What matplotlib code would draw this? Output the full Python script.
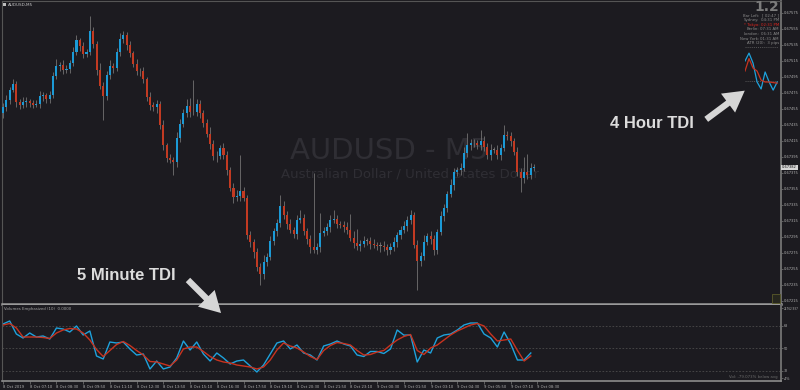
import matplotlib
matplotlib.use("Agg")
import matplotlib.pyplot as plt
from matplotlib.patches import FancyArrowPatch, Rectangle
import numpy as np

# --- data (AUDUSD M5, prices in 1e-5 units) ---
first_open = 67450
close_pts = [
    67457, 67466, 67479, 67486, 67464, 67460, 67464, 67465, 67462, 67460,
    67461, 67471, 67472, 67467, 67472, 67496, 67509, 67510, 67504, 67505,
    67512, 67526, 67541, 67534, 67524, 67526, 67552, 67536, 67504, 67484,
    67471, 67497, 67509, 67506, 67526, 67542, 67547, 67535, 67525, 67511,
    67502, 67502, 67492, 67470, 67460, 67457, 67461, 67435, 67410, 67394,
    67391, 67389, 67419, 67436, 67450, 67459, 67451, 67451, 67461, 67450,
    67437, 67424, 67411, 67396, 67396, 67406, 67397, 67379, 67356, 67345,
    67346, 67352, 67344, 67297, 67289, 67276, 67257, 67249, 67264, 67270,
    67290, 67302, 67312, 67334, 67322, 67311, 67304, 67299, 67316, 67319,
    67302, 67292, 67282, 67279, 67282, 67300, 67302, 67307, 67316, 67317,
    67311, 67310, 67307, 67304, 67294, 67287, 67284, 67286, 67290, 67290,
    67286, 67285, 67284, 67284, 67282, 67279, 67282, 67289, 67297, 67304,
    67309, 67316, 67322, 67285, 67265, 67271, 67289, 67296, 67292, 67279,
    67301, 67321, 67331, 67349, 67360, 67376, 67379, 67381, 67400, 67410,
    67412, 67412, 67410, 67415, 67407, 67397, 67404, 67404, 67397, 67406,
    67422, 67421, 67415, 67401, 67376, 67369, 67376, 67372, 67381, 67382,
]
wick_up = [
    5, 6, 4, 6, 4, 3, 6, 5, 3, 4, 5, 7, 4, 3, 6, 5, 8, 4, 6, 5,
    4, 6, 7, 3, 5, 4, 19, 6, 4, 8, 5, 6, 7, 4, 5, 8, 6, 4, 5, 3,
    6, 4, 5, 3, 6, 4, 5, 4, 6, 3, 5, 4, 7, 6, 5, 8, 10, 40, 6, 5,
    4, 6, 8, 5, 7, 4, 6, 5, 4, 6, 8, 45, 6, 4, 5, 3, 5, 6, 8, 5,
    6, 4, 5, 13, 6, 5, 7, 4, 6, 10, 5, 4, 6, 93, 5, 25, 6, 5, 7, 12,
    6, 4, 5, 7, 20, 8, 18, 5, 6, 4, 5, 6, 4, 5, 6, 4, 5, 6, 4, 5,
    6, 5, 7, 4, 6, 5, 8, 4, 6, 5, 4, 6, 5, 4, 7, 5, 4, 6, 8, 15,
    6, 5, 4, 14, 6, 5, 7, 4, 6, 5, 13, 6, 5, 4, 6, 5, 19, 23, 6, 4,
]
wick_dn = [
    6, 4, 5, 3, 6, 5, 4, 6, 5, 4, 3, 5, 6, 4, 5, 3, 4, 6, 5, 4,
    5, 3, 4, 6, 5, 4, 3, 5, 6, 4, 30, 5, 4, 6, 3, 5, 4, 6, 5, 4,
    5, 6, 4, 5, 6, 4, 7, 5, 6, 5, 4, 17, 6, 5, 4, 5, 6, 4, 5, 6,
    5, 4, 6, 5, 7, 4, 5, 6, 4, 7, 5, 6, 4, 5, 6, 7, 5, 14, 6, 5,
    4, 5, 6, 4, 5, 6, 4, 5, 6, 4, 5, 6, 7, 4, 5, 6, 4, 5, 6, 4,
    5, 4, 6, 5, 4, 6, 5, 7, 4, 5, 6, 4, 5, 8, 4, 6, 5, 4, 6, 5,
    4, 6, 5, 4, 36, 6, 5, 4, 6, 7, 5, 4, 6, 5, 4, 6, 5, 7, 4, 5,
    6, 4, 5, 6, 4, 5, 6, 4, 5, 6, 4, 5, 6, 4, 5, 18, 6, 4, 5, 3,
]

# TDI (5 minute), one value every 2 bars
tdi_step = 2
tdi_price = [
    69.2, 71.6, 61.2, 58.0, 62.0, 58.8, 59.6, 57.2, 66.0, 65.2,
    62.8, 67.6, 60.4, 63.6, 43.6, 41.2, 54.8, 54.0, 54.8, 49.2,
    44.4, 45.2, 33.2, 39.6, 33.2, 34.8, 42.0, 55.6, 48.4, 54.8,
    45.2, 39.6, 46.0, 42.0, 37.2, 39.6, 40.4, 35.6, 30.8, 36.4,
    45.2, 54.0, 55.6, 49.2, 52.4, 46.0, 44.4, 40.4, 51.6, 53.2,
    55.6, 53.2, 51.6, 44.4, 43.2, 47.2, 47.2, 45.6, 49.2, 64.4,
    60.3, 60.4, 38.8, 48.4, 46.0, 58.0, 60.4, 61.2, 64.4, 68.4,
    70.0, 70.0, 61.2, 58.0, 50.8, 62.8, 53.2, 40.4, 40.4, 46.0,
]
tdi_signal = [
    68.4, 69.6, 66.0, 58.8, 58.8, 58.8, 58.4, 57.6, 62.0, 64.4,
    65.6, 65.2, 62.0, 56.4, 48.8, 43.2, 48.0, 52.8, 55.2, 52.0,
    48.0, 44.4, 39.2, 38.8, 37.2, 35.6, 40.4, 49.2, 50.8, 50.8,
    47.2, 43.2, 40.4, 38.8, 38.0, 36.4, 35.6, 34.8, 33.2, 34.8,
    40.4, 48.4, 54.0, 51.6, 50.0, 46.8, 43.2, 40.8, 48.0, 52.0,
    54.4, 53.6, 52.4, 48.0, 44.4, 44.8, 46.8, 48.0, 52.4, 56.4,
    59.2, 60.8, 48.0, 44.8, 50.0, 52.4, 56.4, 60.4, 63.6, 66.0,
    68.4, 69.6, 67.6, 61.2, 55.6, 56.4, 57.2, 48.0, 39.6, 43.6,
]
tdi_levels = [68, 50, 32]

# TDI (4 hour) mini panel
tdi4h_price = [60.6, 64.8, 59.5, 49.5, 45.8, 54.8, 49.5, 45.2, 49.5]
tdi4h_signal = [55.3, 61.9, 56.9, 55.3, 50.5, 49.5, 49.5, 49.2, 48.9]

price_ticks = [0.67575, 0.67555, 0.67535, 0.67515, 0.67495, 0.67475, 0.67455,
               0.67435, 0.67415, 0.67395, 0.67375, 0.67355, 0.67335, 0.67315,
               0.67295, 0.67275, 0.67255, 0.67235, 0.67215]
time_labels = ["8 Oct 2019", "8 Oct 07:10", "8 Oct 08:30", "8 Oct 09:50",
               "8 Oct 11:10", "8 Oct 12:30", "8 Oct 13:50", "8 Oct 15:10",
               "8 Oct 16:30", "8 Oct 17:50", "8 Oct 19:10", "8 Oct 20:30",
               "8 Oct 21:50", "8 Oct 23:10", "9 Oct 00:30", "9 Oct 01:50",
               "9 Oct 03:10", "9 Oct 04:30", "9 Oct 05:50", "9 Oct 07:10",
               "9 Oct 08:30"]
bars_per_label = 8
info_labels = ["Bar Left:", "Sydney:", "* Tokyo:", "Berlin:", "London:", "New York:"]
info_values = ["[ 02:47 ]", "04:31 PM", "02:31 PM", "07:31 AM", "06:31 AM", "01:31 AM"]
atr_text = "ATR (20):  3 pips"

# --- styling ---
BG = "#1c1b20"
BULL = "#1b9ad6"
BEAR = "#c23a22"
WICK = "#7a7a7a"
TXT = "#b0b0b0"
W, H = 800, 390


def fx(px):
    return px / W


def fy(py):
    return 1 - py / H


closes = np.array(close_pts) / 1e5
opens = np.concatenate([[first_open / 1e5], closes[:-1]])
highs = np.maximum(opens, closes) + np.array(wick_up) / 1e5
lows = np.minimum(opens, closes) - np.array(wick_dn) / 1e5
idx = np.arange(len(closes))
colors = np.where(closes > opens, BULL, np.where(closes < opens, BEAR, WICK))
bottoms = np.minimum(opens, closes)
heights = np.maximum(np.abs(closes - opens), 0.7e-5)

fig = plt.figure(figsize=(8, 3.9), dpi=100, facecolor=BG)
ax = fig.add_axes([fx(2), fy(304), fx(779), 303 / H], facecolor=BG)
ax2 = fig.add_axes([fx(2), fy(381), fx(779), 76 / H], facecolor=BG, sharex=ax)

# candles
ax.vlines(idx, lows, highs, color=WICK, lw=0.55, zorder=2)
ax.bar(idx, heights, bottom=bottoms, width=0.62, color=colors, zorder=3)

ax.set_xlim(-0.3, 232.9)
ax.set_ylim(0.6721125, 0.67590)

# watermark
ax.text(fx(290), fy(159), "AUDUSD - M5", transform=fig.transFigure,
        fontsize=21, color="#2f2e34", va="baseline", ha="left", zorder=1)
ax.text(fx(281), fy(178), "Australian Dollar / United States Dollar",
        transform=fig.transFigure, fontsize=9.5, color="#2f2e34",
        va="baseline", ha="left", zorder=1)

# price axis
ax.yaxis.tick_right()
ax.set_yticks(price_ticks)
ax.set_yticklabels([f"{p:.5f}" for p in price_ticks])
ax.tick_params(axis="y", length=1.5, width=0.5, color="#7a7a7a",
               labelsize=2.6, labelcolor=TXT, pad=0.6)
ax.tick_params(axis="x", bottom=False, labelbottom=False)
ax.text(1.0015, closes[-1], f"{closes[-1]:.5f}", transform=ax.get_yaxis_transform(),
        fontsize=2.6, color="#111111", va="center", ha="left",
        bbox=dict(boxstyle="square,pad=0.2", fc="#d6d6d6", ec="none"))

for s in ["left", "top"]:
    ax.spines[s].set_color("#555555")
    ax.spines[s].set_linewidth(0.8)
ax.spines["right"].set_color("#6e6e6e")
ax.spines["right"].set_linewidth(1.4)
ax.spines["bottom"].set_color("#9a9a9a")
ax.spines["bottom"].set_linewidth(1.8)

# lower panel: TDI
tdi_x = np.arange(len(tdi_price)) * tdi_step
for lv in tdi_levels:
    ax2.axhline(lv, color="#4c4c4c", lw=0.6, ls=(0, (2, 2)))
ax2.plot(tdi_x, tdi_price, color="#1ea2dc", lw=1.0)
ax2.plot(tdi_x, tdi_signal, color="#c8331f", lw=1.0)
ax2.set_ylim(23.6, 84.4)
ax2.yaxis.tick_right()
ax2.set_yticks([82, 68, 50, 32, 26])
ax2.set_yticklabels(["24762.937", "68", "50", "32", "-4%"])
ax2.tick_params(axis="y", length=1.5, width=0.5, color="#7a7a7a",
                labelsize=2.4, labelcolor=TXT, pad=0.6)
ax2.get_yticklabels()[0].set_fontsize(2.0)
ax2.set_xticks(np.arange(len(time_labels)) * bars_per_label)
ax2.set_xticklabels(time_labels)
plt.setp(ax2.get_xticklabels(), ha="left")
ax2.tick_params(axis="x", length=2, width=0.5, color="#7a7a7a",
                labelsize=2.7, labelcolor=TXT, pad=1)
ax2.spines["top"].set_visible(False)
ax2.spines["left"].set_color("#555555")
ax2.spines["left"].set_linewidth(0.8)
ax2.spines["right"].set_color("#6e6e6e")
ax2.spines["right"].set_linewidth(1.4)
ax2.spines["bottom"].set_color("#8c8c8c")
ax2.spines["bottom"].set_linewidth(1.2)

# panel texts
fig.patches.append(Rectangle((fx(3), fy(6)), fx(3), 3 / H, transform=fig.transFigure,
                             fc="#bdbdbd", ec="none"))
fig.text(fx(8), fy(4.5), "AUDUSD,M5", fontsize=3, color="#c8c8c8", va="center")
fig.text(fx(4), fy(309), "Volumes Emphasized (10)  0.0000", fontsize=2.8,
         color="#a6a6a6", va="center")
fig.text(fx(778), fy(377), "Vol: -79.073% below avg", fontsize=2.8,
         color="#6c6c6c", va="center", ha="right")
fig.patches.append(Rectangle((fx(772), fy(303)), fx(8), 9 / H, transform=fig.transFigure,
                             fc="#26261e", ec="#5a5a2a", lw=0.6))

# info block (top right)
fig.text(fx(779), fy(7), "1.2", fontsize=10, color="#7c7c7c", weight="bold",
         ha="right", va="center")
for k, (lab, val) in enumerate(zip(info_labels, info_values)):
    yy = fy(15.7 + 4.6 * k)
    col = "#e0261e" if lab.startswith("*") else "#8a8a8a"
    fig.text(fx(759.5), yy, lab, fontsize=2.8, color=col, ha="right", va="center")
    fig.text(fx(779), yy, val, fontsize=2.8, color=col, ha="right", va="center")
fig.text(fx(779), fy(43.3), atr_text, fontsize=2.8, color="#8a8a8a",
         ha="right", va="center")

# 4 hour TDI mini panel
ax3 = fig.add_axes([fx(745), fy(92), fx(33), 47 / H])
ax3.set_facecolor("none")
ax3.axis("off")
ax3.set_xlim(0, len(tdi4h_price) - 0.8)
ax3.set_ylim(44.2, 69.1)
for lv in [68, 50]:
    ax3.axhline(lv, color="#6a6a6a", lw=0.5, ls=(0, (1.5, 1.5)))
ax3.plot(tdi4h_price, color="#1ea2dc", lw=0.9)
ax3.plot(tdi4h_signal, color="#c8331f", lw=0.9)

# annotations
fig.text(fx(77), fy(276), "5 Minute TDI", fontsize=12, weight="bold",
         family="Liberation Sans", color="#dcdcdc", va="center")
fig.text(fx(610), fy(123), "4 Hour TDI", fontsize=12, weight="bold",
         family="Liberation Sans", color="#dcdcdc", va="center")
arrow_style = "simple,head_length=1.5,head_width=1.7,tail_width=0.45"
for (x0, y0), (x1, y1) in [((186, 278), (223, 315)), ((704, 121), (747, 89))]:
    fig.add_artist(FancyArrowPatch((fx(x0), fy(y0)), (fx(x1), fy(y1)),
                                   transform=fig.transFigure, arrowstyle=arrow_style,
                                   mutation_scale=10, color="#d6d6d6", lw=0))

fig.savefig("out.png", dpi=100, facecolor=BG)
